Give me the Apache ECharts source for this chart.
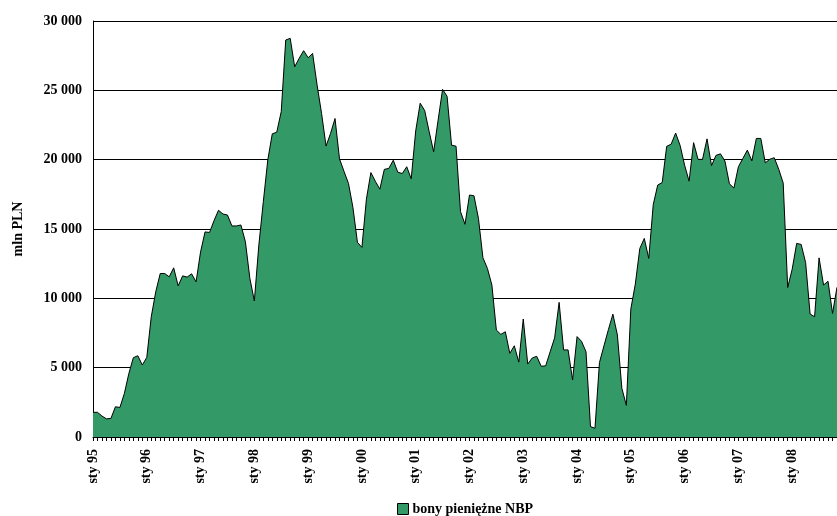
<!DOCTYPE html>
<html>
<head>
<meta charset="utf-8">
<script src="https://cdn.jsdelivr.net/npm/echarts@6/dist/echarts.min.js"></script>
<style>
  html, body { margin: 0; padding: 0; background: #fff; }
  #chart { width: 837px; height: 516px; }
</style>
</head>
<body>
<div id="chart"></div>
<script>
// miesiące: sty 95 ... lis 08
const monthNames = ['sty', 'lut', 'mar', 'kwi', 'maj', 'cze', 'lip', 'sie', 'wrz', 'paź', 'lis', 'gru'];
const years = ['95', '96', '97', '98', '99', '00', '01', '02', '03', '04', '05', '06', '07', '08'];

// bony pieniężne NBP, mln PLN (odczyt z wykresu)
const bonyNBP = [
  1780, 1780, 1510, 1310, 1340, 2180, 2130, 3140, 4580, 5720, 5860, 5190,
  5740, 8670, 10470, 11790, 11790, 11550, 12200, 10900, 11620, 11530, 11770, 11190,
  13350, 14790, 14750, 15600, 16350, 16080, 16010, 15220, 15220, 15290, 14090, 11440,
  9810, 13840, 16970, 19980, 21860, 21980, 23470, 28630, 28750, 26700, 27310, 27860,
  27350, 27660, 25380, 23330, 20980, 21890, 22970, 20060, 19160, 18290, 16550, 14040,
  13670, 17150, 19070, 18440, 17870, 19300, 19370, 19960, 19100, 19000, 19490, 18620,
  22070, 24070, 23550, 22030, 20570, 22850, 25070, 24570, 21050, 20970, 16250, 15340,
  17450, 17400, 15770, 12930, 12160, 10960, 7710, 7400, 7590, 6030, 6580, 5400,
  8510, 5260, 5700, 5820, 5100, 5130, 6150, 7150, 9710, 6280, 6280, 4110,
  7240, 6900, 6150, 750, 630, 5370, 6570, 7750, 8860, 7360, 3510, 2280,
  9230, 11030, 13590, 14320, 12880, 16760, 18170, 18350, 20960, 21120, 21920, 21020,
  19600, 18450, 21230, 20020, 20020, 21500, 19570, 20310, 20420, 19900, 18260, 17950,
  19490, 20090, 20690, 19910, 21530, 21530, 19770, 20030, 20140, 19310, 18310, 10780,
  12100, 13960, 13890, 12580, 8870, 8670, 12920, 10960, 11230, 8910, 10800
];

const months = [];
for (let i = 0; i < bonyNBP.length; i++) {
  months.push(monthNames[i % 12] + ' ' + years[Math.floor(i / 12)]);
}

const font = 'Liberation Serif, "Times New Roman", serif';

let chart = echarts.init(document.getElementById('chart'), null, { renderer: 'canvas' });

chart.setOption({
  animation: false,
  backgroundColor: '#fff',
  grid: { left: 93, right: -2, top: 21, bottom: 79 },
  legend: {
    top: 502,
    left: 397,
    padding: 0,
    icon: 'rect',
    itemWidth: 11,
    itemHeight: 11,
    itemGap: 4,
    itemStyle: { color: '#339966', borderColor: '#000', borderWidth: 1 },
    textStyle: { fontFamily: font, fontWeight: 'bold', fontSize: 14, color: '#000', padding: [0, 0, 0, -1] },
    data: ['bony pieniężne NBP']
  },
  xAxis: {
    type: 'category',
    boundaryGap: false,
    data: months,
    axisLine: { lineStyle: { color: '#000', width: 1 } },
    axisTick: { show: true, interval: 0, length: 4, lineStyle: { color: '#000' } },
    axisLabel: {
      interval: function (idx) { return idx % 12 === 0; },
      rotate: 90,
      margin: 12,
      fontFamily: font,
      fontWeight: 'bold',
      fontSize: 14,
      color: '#000'
    },
    splitLine: { show: false }
  },
  yAxis: {
    type: 'value',
    min: 0,
    max: 30000,
    interval: 5000,
    name: 'mln PLN',
    nameLocation: 'middle',
    nameGap: 68,
    nameRotate: 90,
    nameTextStyle: { fontFamily: font, fontWeight: 'bold', fontSize: 14, color: '#000' },
    axisLine: { show: true, lineStyle: { color: '#000', width: 1 } },
    axisTick: { show: false },
    axisLabel: {
      margin: 11,
      fontFamily: font,
      fontWeight: 'bold',
      fontSize: 14,
      color: '#000',
      formatter: function (v) { return String(v).replace(/\B(?=(\d{3})+(?!\d))/g, ' '); }
    },
    splitLine: { lineStyle: { color: '#000', width: 1 } }
  },
  series: [{
    name: 'bony pieniężne NBP',
    type: 'line',
    data: bonyNBP,
    symbol: 'none',
    itemStyle: { color: '#339966' },
    lineStyle: { color: '#000', width: 1 },
    areaStyle: { color: '#339966', opacity: 1 }
  }]
});

window.addEventListener('resize', function () { chart.resize(); });
</script>
</body>
</html>
